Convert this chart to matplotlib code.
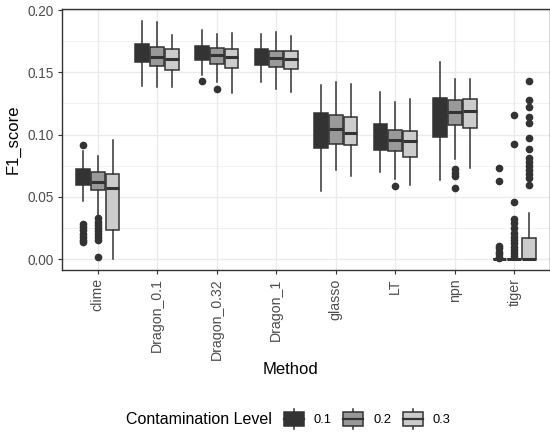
import matplotlib
matplotlib.use("Agg")
import matplotlib.pyplot as plt
from matplotlib.legend_handler import HandlerBase
from matplotlib.patches import Patch, Rectangle
from matplotlib.lines import Line2D
import numpy as np

plt.rcParams['font.family'] = ['Liberation Sans', 'DejaVu Sans']

# F1 score box statistics, per contamination level
methods = ['clime', 'Dragon_0.1', 'Dragon_0.32', 'Dragon_1', 'glasso', 'LT', 'npn', 'tiger']
levels = ['0.1', '0.2', '0.3']
fills = ['#333333', '#999999', '#cccccc']

whislo_01 = [0.0463, 0.1390, 0.1478, 0.1424, 0.0549, 0.0696, 0.0635, 0.0]
q1_01 = [0.0594, 0.1585, 0.1596, 0.1558, 0.0894, 0.0878, 0.0983, 0.0]
med_01 = [0.0650, 0.1650, 0.1650, 0.1630, 0.1040, 0.0970, 0.1150, 0.0]
q3_01 = [0.0723, 0.1727, 0.1710, 0.1690, 0.1170, 0.1082, 0.1290, 0.0]
whishi_01 = [0.0867, 0.1910, 0.1840, 0.1807, 0.1398, 0.1344, 0.1585, 0.0]
fliers_01 = [[0.0916, 0.028, 0.0255, 0.023, 0.0205, 0.018, 0.0155, 0.014],
             [], [0.1427], [], [], [], [],
             [0.0728, 0.0627, 0.0104, 0.0085, 0.006, 0.004, 0.002, 0.001]]

whislo_02 = [0.0345, 0.1384, 0.1424, 0.1363, 0.0715, 0.0640, 0.0803, 0.0]
q1_02 = [0.0557, 0.1553, 0.1564, 0.1540, 0.0926, 0.0865, 0.1074, 0.0]
med_02 = [0.0621, 0.1620, 0.1641, 0.1612, 0.1047, 0.0953, 0.1183, 0.0]
q3_02 = [0.0696, 0.1705, 0.1695, 0.1673, 0.1159, 0.1039, 0.1277, 0.0]
whishi_02 = [0.0830, 0.1900, 0.1807, 0.1820, 0.1424, 0.1261, 0.1446, 0.0]
fliers_02 = [[0.0327, 0.030, 0.0275, 0.025, 0.0225, 0.020, 0.0175, 0.0153, 0.0019],
             [], [0.1363], [], [], [0.0586], [0.072, 0.0693, 0.0667, 0.0573],
             [0.1157, 0.0924, 0.0455, 0.0319, 0.0286, 0.0246, 0.0206, 0.018,
              0.0153, 0.0126, 0.010, 0.0075, 0.005, 0.0025]]

whislo_03 = [0.0, 0.1384, 0.1331, 0.1344, 0.0669, 0.0594, 0.0728, 0.0]
q1_03 = [0.0233, 0.1518, 0.1534, 0.1523, 0.0916, 0.0817, 0.1055, 0.0]
med_03 = [0.0570, 0.1604, 0.1625, 0.1610, 0.1009, 0.0950, 0.1191, 0.0]
q3_03 = [0.0683, 0.1684, 0.1687, 0.1670, 0.1138, 0.1031, 0.1285, 0.0171]
whishi_03 = [0.0956, 0.1797, 0.1815, 0.1790, 0.1403, 0.1285, 0.1446, 0.0372]
fliers_03 = [[], [], [], [], [], [], [],
             [0.1432, 0.1277, 0.1224, 0.1143, 0.1095, 0.0975, 0.0884, 0.0814,
              0.0782, 0.075, 0.0715, 0.0683, 0.0648, 0.0594]]

series = [
    (whislo_01, q1_01, med_01, q3_01, whishi_01, fliers_01),
    (whislo_02, q1_02, med_02, q3_02, whishi_02, fliers_02),
    (whislo_03, q1_03, med_03, q3_03, whishi_03, fliers_03),
]

edge = '#333333'

fig = plt.figure(figsize=(5.5, 4.33), dpi=100)
ax = fig.add_axes([62 / 550, 1 - 270 / 433, 488 / 550, 260.7 / 433])

x = np.arange(1, len(methods) + 1)
offsets = [-0.25, 0.0, 0.25]
for k, (lo, a, m, b, hi, fl) in enumerate(series):
    stats = [dict(whislo=lo[i], q1=a[i], med=m[i], q3=b[i], whishi=hi[i], fliers=fl[i])
             for i in range(len(methods))]
    ax.bxp(stats, positions=x + offsets[k], widths=0.23, patch_artist=True,
           showcaps=False, manage_ticks=False,
           boxprops=dict(facecolor=fills[k], edgecolor=edge, linewidth=1.1),
           medianprops=dict(color=edge, linewidth=2.2),
           whiskerprops=dict(color=edge, linewidth=1.1),
           flierprops=dict(marker='o', markerfacecolor=edge, markeredgecolor=edge,
                           markersize=4.5, linestyle='none'))

ax.set_xlim(0.4, len(methods) + 0.6)
ax.set_ylim(-0.0088, 0.2006)
ax.set_xticks(x)
ax.set_xticklabels(methods, rotation=90, ha='center', va='top')
ax.set_yticks([0.0, 0.05, 0.10, 0.15, 0.20])
ax.set_yticklabels(['0.00', '0.05', '0.10', '0.15', '0.20'])
ax.set_yticks([0.025, 0.075, 0.125, 0.175], minor=True)
ax.tick_params(axis='both', which='major', labelcolor='#4d4d4d',
               color=edge, length=3, width=0.8, pad=3)
ax.tick_params(axis='x', which='major', labelsize=10.2)
ax.tick_params(axis='y', which='major', labelsize=9.8)
ax.tick_params(axis='y', which='minor', length=0)
ax.grid(which='major', color='#ebebeb', linewidth=1.0)
ax.grid(which='minor', axis='y', color='#ebebeb', linewidth=0.5)
ax.set_axisbelow(True)
for s in ax.spines.values():
    s.set_color(edge)
    s.set_linewidth(1.0)

ax.set_ylabel('F1_score', fontsize=12)
ax.yaxis.set_label_coords(-0.084, 0.5)
fig.text(290 / 550, 1 - 370 / 433, 'Method', ha='center', va='center', fontsize=12)


class BoxKey(HandlerBase):
    def create_artists(self, legend, orig_handle, xdescent, ydescent,
                       width, height, fontsize, trans):
        cx = width / 2 - xdescent
        y0 = -ydescent
        whisk = Line2D([cx, cx], [y0 - 0.2 * height, y0 + 1.2 * height],
                       color=edge, linewidth=1.1, transform=trans)
        box = Rectangle((-xdescent, y0), width, height,
                        facecolor=orig_handle.get_facecolor(), edgecolor=edge,
                        linewidth=1.1, transform=trans)
        med = Line2D([-xdescent, width - xdescent], [y0 + height / 2] * 2,
                     color=edge, linewidth=1.6, transform=trans)
        return [whisk, box, med]


handles = [Patch(facecolor=c) for c in fills]
fig.text(272 / 550, 1 - 419 / 433, 'Contamination Level', ha='right', va='center',
         fontsize=11.5)
fig.legend(handles, levels, handler_map={Patch: BoxKey()}, ncol=3,
           loc='center left', bbox_to_anchor=(284 / 550, 1 - 419 / 433),
           frameon=False, fontsize=9.3, handlelength=1.55, handleheight=1.3,
           handletextpad=0.75, columnspacing=0.9, borderpad=0, borderaxespad=0)

fig.savefig('out.png', dpi=100)
